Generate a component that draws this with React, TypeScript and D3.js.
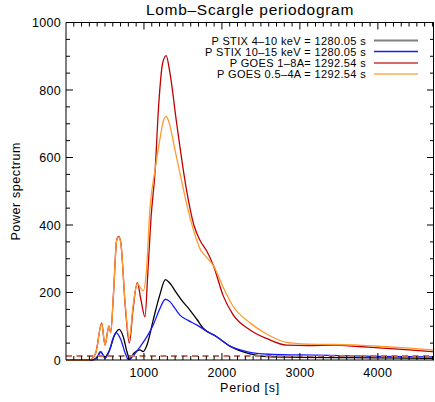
import React from 'react';
import * as d3 from 'd3';

const W = 435;
const H = 402;

const titleText = 'Lomb–Scargle periodogram';
const xLabel = 'Period [s]';
const yLabel = 'Power spectrum';

const xTickValues = [1000, 2000, 3000, 4000];
const yTickValues = [0, 200, 400, 600, 800, 1000];

const legendLabels = [
  'P STIX 4–10 keV = 1280.05 s',
  'P STIX 10–15 keV = 1280.05 s',
  'P GOES 1–8A= 1292.54 s',
  'P GOES 0.5–4A = 1292.54 s',
];

// STIX 4-10 keV
const stixLowPeriod = [0, 330, 400, 440, 500, 560, 620, 683, 730, 790, 821, 870, 949, 990, 1040, 1119, 1200, 1275, 1330, 1419, 1500, 1590, 1680, 1760, 1932, 2103, 2359, 2573, 3000, 3500, 4000, 4720];
const stixLowPower = [0, 0, 8, 25, 9, 30, 72, 91, 72, 18, 2, 20, 30, 25, 45, 119, 190, 238, 228, 198, 172, 148, 120, 94, 69, 41, 18, 10, 8, 7, 6, 5];

// STIX 10-15 keV
const stixHighPeriod = [0, 330, 400, 448, 500, 560, 600, 641, 700, 760, 799, 850, 949, 1040, 1119, 1200, 1275, 1333, 1400, 1462, 1560, 1675, 1800, 1932, 2103, 2317, 2600, 3000, 3500, 4000, 4720];
const stixHighPower = [0, 0, 8, 24, 5, 30, 62, 81, 62, 20, 2, 10, 39, 70, 104, 150, 180, 173, 152, 133, 118, 104, 86, 69, 41, 25, 17, 15, 13, 11, 9];

// GOES 1-8 A
const goesLongPeriod = [0, 300, 380, 458, 500, 551, 573, 610, 650, 675, 700, 760, 812, 860, 914, 960, 1013, 1050, 1090, 1141, 1190, 1240, 1285, 1330, 1420, 1545, 1640, 1718, 1800, 1890, 2017, 2140, 2360, 2570, 2830, 3100, 3420, 3750, 4060, 4400, 4720];
const goesLongPower = [0, 0, 20, 110, 44, 101, 81, 200, 355, 366, 352, 160, 50, 150, 229, 180, 128, 260, 420, 554, 760, 880, 902, 855, 700, 505, 400, 355, 325, 280, 190, 135, 89, 64, 44, 43, 44, 40, 35, 30, 24];

// GOES 0.5-4 A
const goesShortPeriod = [0, 300, 380, 458, 500, 551, 573, 610, 650, 675, 700, 760, 812, 860, 914, 991, 1030, 1077, 1140, 1205, 1250, 1285, 1320, 1400, 1462, 1560, 1675, 1718, 1800, 1890, 2017, 2141, 2360, 2573, 2829, 3100, 3423, 3750, 4064, 4400, 4720];
const goesShortPower = [0, 0, 20, 108, 44, 101, 81, 200, 355, 365, 352, 165, 65, 160, 226, 205, 260, 450, 560, 655, 710, 722, 705, 620, 553, 450, 356, 330, 305, 280, 215, 160, 110, 77, 52, 47, 46, 44, 40, 35, 29];

const significanceLevel = [12];

const seriesColors = ['#000000', '#1a1aff', '#c00000', '#ff9a2e'];
const legendLineColors = ['#808080', '#1a1aff', '#d46a6a', '#ffac50'];

const xScale = d3.scaleLinear().domain([0, 4720]).range([66, 434]);
const yScale = d3.scaleLinear().domain([0, 1000]).range([360, 22.5]);

function makePath(periods: number[], powers: number[]) {
  const pts: [number, number][] = periods.map((p, i) => [p, powers[i]]);
  const line = d3
    .line<[number, number]>()
    .x((d) => xScale(d[0]))
    .y((d) => yScale(d[1]))
    .curve(d3.curveMonotoneX);
  return line(pts) || '';
}

export default function App() {
  const [x0, x1] = xScale.range();
  const [y0, y1] = yScale.range();
  const font = 'Liberation Sans, Arial, Helvetica, sans-serif';

  const xMinor = d3.range(100, 4720, 100);
  const yMinor = d3.range(50, 1000, 50);

  const series = [
    { per: stixLowPeriod, pow: stixLowPower, color: seriesColors[0] },
    { per: stixHighPeriod, pow: stixHighPower, color: seriesColors[1] },
    { per: goesLongPeriod, pow: goesLongPower, color: seriesColors[2] },
    { per: goesShortPeriod, pow: goesShortPower, color: seriesColors[3] },
  ];

  const legendY = [40.5, 51.5, 63, 74];

  return (
    <svg
      width={W}
      height={H}
      viewBox={`0 0 ${W} ${H}`}
      style={{ position: 'absolute', left: 0, top: 0, background: '#fff' }}
    >
      <rect x={0} y={0} width={W} height={H} fill="#fff" />
      <defs>
        <clipPath id="plotClip">
          <rect x={x0} y={y1} width={x1 - x0} height={y0 - y1 + 2} />
        </clipPath>
      </defs>

      <text
        x={(x0 + x1) / 2}
        y={15}
        textAnchor="middle"
        fontFamily={font}
        fontSize={15.5}
        letterSpacing={0.7}
        fill="#000"
      >
        {titleText}
      </text>

      <g clipPath="url(#plotClip)">
        {series.map((s, i) => (
          <path key={i} d={makePath(s.per, s.pow)} fill="none" stroke={s.color} strokeWidth={1.3} />
        ))}
        {significanceLevel.map((v, i) => (
          <line
            key={i}
            x1={x0}
            x2={x1}
            y1={yScale(v)}
            y2={yScale(v)}
            stroke="#c8705c"
            strokeWidth={2}
            strokeDasharray="6,4.5"
          />
        ))}
      </g>

      <g stroke="#000" strokeWidth={1} fill="none">
        <line x1={x0} x2={x1} y1={y0} y2={y0} />
        <line x1={x0} x2={x1} y1={y1} y2={y1} />
        <line x1={x0} x2={x0} y1={y0} y2={y1} />
        <line x1={x1 - 0.5} x2={x1 - 0.5} y1={y0} y2={y1} />
        {xMinor.map((v) => {
          const major = v % 1000 === 0;
          const len = major ? 7 : 4;
          const xx = xScale(v);
          return (
            <g key={'xt' + v}>
              <line x1={xx} x2={xx} y1={y0} y2={y0 - len} />
              <line x1={xx} x2={xx} y1={y1} y2={y1 + len} />
            </g>
          );
        })}
        {yMinor.map((v) => {
          const major = v % 200 === 0;
          const len = major ? 7 : 4;
          const yy = yScale(v);
          return (
            <g key={'yt' + v}>
              <line x1={x0} x2={x0 + len} y1={yy} y2={yy} />
              <line x1={x1} x2={x1 - len} y1={yy} y2={yy} />
            </g>
          );
        })}
      </g>

      {xTickValues.map((v) => (
        <text key={'xl' + v} x={xScale(v)} y={377} textAnchor="middle" fontFamily={font} fontSize={12.5} letterSpacing={0.3} fill="#000">
          {v}
        </text>
      ))}
      {yTickValues.map((v) => (
        <text
          key={'yl' + v}
          x={61}
          y={yScale(v) + 4.5}
          textAnchor="end"
          fontFamily={font}
          fontSize={12.5}
          letterSpacing={0.3}
          fill="#000"
        >
          {v}
        </text>
      ))}

      <text x={(x0 + x1) / 2} y={392} textAnchor="middle" fontFamily={font} fontSize={12.5} letterSpacing={0.7} fill="#000">
        {xLabel}
      </text>
      <text
        transform={`translate(20, ${(y0 + y1) / 2}) rotate(-90)`}
        textAnchor="middle"
        fontFamily={font}
        fontSize={12.5}
        letterSpacing={0.6}
        fill="#000"
      >
        {yLabel}
      </text>

      {legendLabels.map((t, i) => (
        <g key={'lg' + i}>
          <text x={366} y={legendY[i] + 4} textAnchor="end" fontFamily={font} fontSize={11} letterSpacing={0.35} fill="#000">
            {t}
          </text>
          <line
            x1={374}
            x2={418}
            y1={legendY[i]}
            y2={legendY[i]}
            stroke={legendLineColors[i]}
            strokeWidth={i === 1 || i === 3 ? 1.3 : 2}
          />
        </g>
      ))}
    </svg>
  );
}
